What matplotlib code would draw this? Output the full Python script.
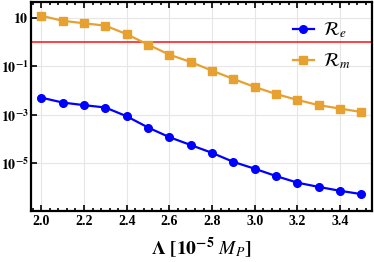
import matplotlib
matplotlib.use("Agg")
import matplotlib.pyplot as plt
from matplotlib.ticker import AutoMinorLocator, FixedLocator

plt.rcParams['mathtext.fontset'] = 'stix'
plt.rcParams['font.family'] = ['Liberation Serif', 'DejaVu Serif']

lam = [2.0, 2.1, 2.2, 2.3, 2.4, 2.5, 2.6, 2.7, 2.8, 2.9, 3.0, 3.1, 3.2, 3.3, 3.4, 3.5]
R_e = [5.1e-3, 3.2e-3, 2.5e-3, 2.0e-3, 8.7e-4, 3.0e-4, 1.2e-4, 5.7e-5, 2.7e-5,
       1.15e-5, 6.0e-6, 3.0e-6, 1.6e-6, 1.07e-6, 7.4e-7, 5.4e-7]
R_m = [12.0, 7.5, 5.9, 4.7, 2.1, 0.78, 0.30, 0.15, 0.066, 0.030, 0.014,
       0.0072, 0.0041, 0.0025, 0.0018, 0.0013]
threshold = 1.0

fig = plt.figure(figsize=(3.74, 2.62), dpi=100)
ax = fig.add_axes([0.082, 0.195, 0.913, 0.797])

ax.axhline(threshold, color='#ff2020', lw=1.2, zorder=2)
ax.plot(lam, R_e, color='#0000ff', marker='o', ms=5.5, lw=1.6, label=r'$\mathcal{R}_e$', zorder=3)
ax.plot(lam, R_m, color='#e6a130', marker='s', ms=5.5, lw=1.6, label=r'$\mathcal{R}_m$', zorder=3)

ax.set_yscale('log')
ax.set_xlim(1.95, 3.55)
ax.set_ylim(1.1e-7, 44)
ax.yaxis.set_major_locator(FixedLocator([10, 1e-1, 1e-3, 1e-5]))
ax.yaxis.set_minor_locator(FixedLocator([]))
ax.set_yticklabels([r'$\mathbf{10}$', r'$\mathbf{10^{-1}}$', r'$\mathbf{10^{-3}}$', r'$\mathbf{10^{-5}}$'])
ax.set_xticks([2.0, 2.2, 2.4, 2.6, 2.8, 3.0, 3.2, 3.4])
ax.set_xticklabels(['2.0', '2.2', '2.4', '2.6', '2.8', '3.0', '3.2', '3.4'])
ax.xaxis.set_minor_locator(AutoMinorLocator(5))

for lbl in ax.get_xticklabels():
    lbl.set_fontweight('bold')
    lbl.set_fontsize(10)
for lbl in ax.get_yticklabels():
    lbl.set_fontsize(10)

ax.tick_params(axis='both', which='both', direction='in', top=True, right=False, width=1.2, colors='black')
ax.tick_params(axis='x', which='major', length=4, pad=3)
ax.tick_params(axis='x', which='minor', length=2.5)
ax.tick_params(axis='y', which='major', length=4, pad=1.5)

ax.grid(True, which='major', color='#e6e6e6', lw=0.8, zorder=0)
for s in ax.spines.values():
    s.set_linewidth(1.6)
    s.set_color('black')

ax.set_xlabel(r'$\mathbf{\Lambda}$ $\mathbf{[10^{-5}}$ $\boldsymbol{M_P}\mathbf{]}$', fontsize=14, labelpad=5)

leg = ax.legend(loc='upper right', frameon=False, fontsize=13.5, handlelength=1.1,
                handletextpad=0.5, bbox_to_anchor=(0.975, 0.975), labelspacing=0.6,
                borderaxespad=0.3)

fig.savefig('out.png', dpi=100)
